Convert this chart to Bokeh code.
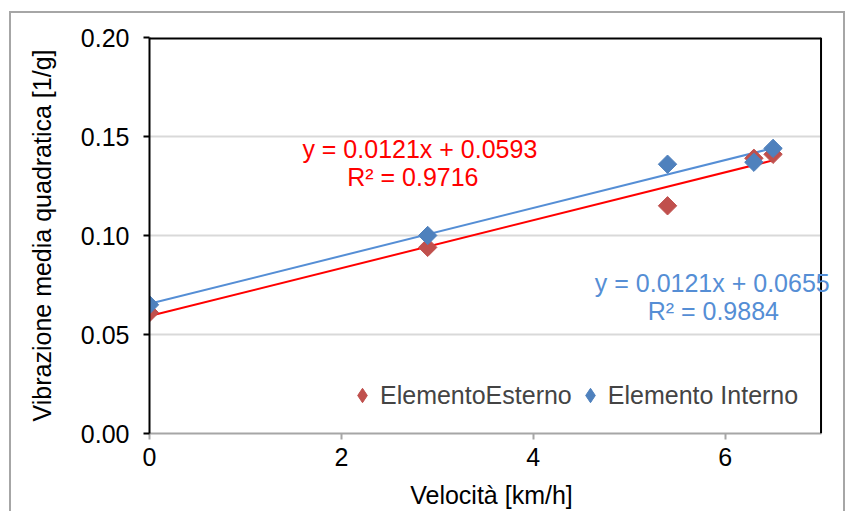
import math
from bokeh.plotting import figure
from bokeh.models import Range1d, Legend, LegendItem, FixedTicker, NumeralTickFormatter, Label, Span
from bokeh.embed import file_html
from bokeh.resources import INLINE

# Data
velocita = [0.0, 2.9, 5.4, 6.3, 6.5]
esterno = [0.061, 0.094, 0.115, 0.139, 0.141]
interno = [0.065, 0.100, 0.136, 0.137, 0.144]

# Linear trendlines (from the chart's equations)
slope_est, icpt_est = 0.0121, 0.0593
slope_int, icpt_int = 0.0121, 0.0655
trend_x = [0.0, 6.5]

X_MIN, X_MAX = 0, 7
Y_MIN, Y_MAX = 0.0, 0.20
x_ticks = [0, 2, 4, 6]
y_ticks = [0.0, 0.05, 0.10, 0.15, 0.20]

eq_labels = ["y = 0.0121x + 0.0593", "R² = 0.9716", "y = 0.0121x + 0.0655", "R² = 0.9884"]
eq_x = [2.818, 2.745, 5.866, 5.877]
eq_y = [0.1439, 0.1293, 0.0758, 0.0621]

FONT = "Liberation Sans"
FS = "25px"
RED_M = "#C0504D"
BLUE_M = "#4F81BD"
RED_L = "#FF0000"
BLUE_L = "#558ED5"

# the frame is widened a little past X_MAX so the right-hand equation is not clipped;
# the plot-area border is drawn at X_MAX
p = figure(width=836, height=500, output_backend="svg", toolbar_location=None,
           x_range=Range1d(X_MIN, X_MAX + 0.13), y_range=Range1d(Y_MIN, Y_MAX),
           min_border_left=138, min_border_right=14, min_border_top=24, min_border_bottom=80)
p.styles = {"margin-left": "9px", "margin-top": "11px",
            "border-left": "2px solid #A6A6A6", "border-top": "2px solid #A6A6A6",
            "border-right": "2px solid #A6A6A6"}
p.border_fill_color = "white"
p.outline_line_color = None

# axes
p.xaxis.ticker = FixedTicker(ticks=x_ticks)
p.yaxis.ticker = FixedTicker(ticks=y_ticks)
p.xaxis.bounds = (X_MIN, X_MAX)
p.yaxis.formatter = NumeralTickFormatter(format="0.00")
p.xaxis.formatter = NumeralTickFormatter(format="0")
for ax in (p.xaxis[0], p.yaxis[0]):
    ax.major_label_text_font = FONT
    ax.major_label_text_font_size = FS
    ax.major_label_text_color = "#000000"
    ax.axis_label_text_font = FONT
    ax.axis_label_text_font_size = FS
    ax.axis_label_text_font_style = "normal"
    ax.axis_label_text_color = "#000000"
    ax.minor_tick_line_color = None
    ax.major_tick_in = 0
    ax.major_tick_out = 6
p.xaxis.axis_label = "Velocità [km/h]"
p.yaxis.axis_label = "Vibrazione media quadratica [1/g]"
p.xaxis.axis_line_color = "#A6A6A6"
p.xaxis.axis_line_width = 2
p.xaxis.major_tick_line_color = "#A6A6A6"
p.xaxis.major_tick_line_width = 2
p.yaxis.axis_line_color = "black"
p.yaxis.axis_line_width = 2
p.yaxis.major_tick_line_color = "black"
p.yaxis.major_tick_line_width = 2
p.xaxis.major_label_standoff = 8
p.yaxis.major_label_standoff = 14
p.xaxis.axis_label_standoff = 12
p.yaxis.axis_label_standoff = 22

# horizontal gridlines, limited to the plot area
p.xgrid.grid_line_color = None
p.ygrid.grid_line_color = None
gy = [t for t in y_ticks if Y_MIN < t < Y_MAX]
p.segment(x0=[X_MIN] * len(gy), x1=[X_MAX] * len(gy), y0=gy, y1=gy,
          line_color="#D9D9D9", line_width=2, level="underlay")

# plot-area border (top and right)
p.line([X_MIN, X_MAX], [Y_MAX, Y_MAX], line_color="black", line_width=4)
p.add_layout(Span(location=X_MAX, dimension="height", line_color="black", line_width=2))

# trendlines
p.line(trend_x, [slope_est * x + icpt_est for x in trend_x], line_color=RED_L, line_width=2)
p.line(trend_x, [slope_int * x + icpt_int for x in trend_x], line_color=BLUE_L, line_width=2)

# points (diamonds = squares rotated by 45 degrees)
p.scatter(velocita, esterno, marker="square", size=13, angle=math.pi / 4,
          fill_color=RED_M, line_color=RED_M)
p.scatter(velocita, interno, marker="square", size=13, angle=math.pi / 4,
          fill_color=BLUE_M, line_color=BLUE_M)

# legend-only renderers (diamond markers, nothing drawn in the plot)
nan = float("nan")
leg_est = p.scatter([nan], [nan], marker="diamond", fill_color=RED_M, line_color=RED_M)
leg_int = p.scatter([nan], [nan], marker="diamond", fill_color=BLUE_M, line_color=BLUE_M)

# equations
eq_colors = [RED_L, RED_L, BLUE_L, BLUE_L]
for t, xx, yy, c in zip(eq_labels, eq_x, eq_y, eq_colors):
    p.add_layout(Label(x=xx, y=yy, text=t, text_font=FONT, text_font_size=FS,
                       text_color=c, text_align="center", text_baseline="middle",
                       level="overlay"))

legend = Legend(items=[LegendItem(label="ElementoEsterno", renderers=[leg_est], index=0),
                       LegendItem(label="Elemento Interno", renderers=[leg_int], index=0)],
                orientation="horizontal", location=(195, 18),
                label_text_font=FONT, label_text_font_size=FS,
                glyph_width=36, glyph_height=40, label_standoff=0, spacing=0,
                padding=0, margin=0, border_line_color=None, background_fill_alpha=0)
p.add_layout(legend)

open("out.html", "w").write(file_html(p, INLINE))
